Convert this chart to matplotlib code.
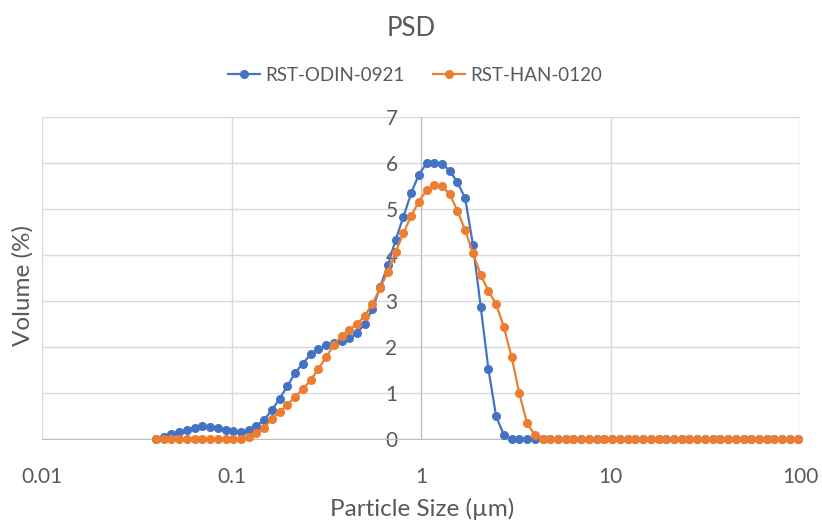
import matplotlib
matplotlib.use('Agg')
import matplotlib.pyplot as plt
from matplotlib.ticker import FixedLocator, NullLocator

plt.rcParams['font.family'] = ['Lato', 'DejaVu Sans']

# Particle size classes (µm)
sizes = [0.03981, 0.04373, 0.04804, 0.05278, 0.05798, 0.06369, 0.06997, 0.07686, 0.08444, 0.09276,
         0.1019, 0.1119, 0.1230, 0.1351, 0.1484, 0.1630, 0.1791, 0.1967, 0.2161, 0.2374,
         0.2608, 0.2865, 0.3147, 0.3458, 0.3798, 0.4173, 0.4584, 0.5036, 0.5532, 0.6077,
         0.6676, 0.7333, 0.8056, 0.8850, 0.9722, 1.068, 1.173, 1.289, 1.416, 1.555,
         1.709, 1.877, 2.062, 2.265, 2.488, 2.734, 3.003, 3.299, 3.624, 3.981,
         4.373, 4.804, 5.278, 5.798, 6.369, 6.997, 7.686, 8.444, 9.276, 10.19,
         11.19, 12.30, 13.51, 14.84, 16.30, 17.91, 19.67, 21.61, 23.74, 26.08,
         28.65, 31.47, 34.58, 37.98, 41.73, 45.84, 50.36, 55.32, 60.77, 66.76,
         73.33, 80.56, 88.50, 97.22]

# Volume (%) for RST-ODIN-0921
odin = [0.00, 0.04, 0.10, 0.15, 0.20, 0.25, 0.28, 0.27, 0.24, 0.20,
        0.17, 0.15, 0.19, 0.28, 0.42, 0.63, 0.88, 1.15, 1.44, 1.64,
        1.84, 1.96, 2.04, 2.09, 2.13, 2.19, 2.30, 2.51, 2.82, 3.31,
        3.78, 4.33, 4.83, 5.34, 5.75, 5.99, 6.01, 5.98, 5.83, 5.58,
        5.23, 4.22, 2.88, 1.52, 0.49, 0.09, 0.00, 0.00, 0.00, 0.00,
        0.00, 0.00, 0.00, 0.00, 0.00, 0.00, 0.00, 0.00, 0.00, 0.00,
        0.00, 0.00, 0.00, 0.00, 0.00, 0.00, 0.00, 0.00, 0.00, 0.00,
        0.00, 0.00, 0.00, 0.00, 0.00, 0.00, 0.00, 0.00, 0.00, 0.00,
        0.00, 0.00, 0.00, 0.00]

# Volume (%) for RST-HAN-0120
han = [0.00, 0.00, 0.00, 0.00, 0.00, 0.00, 0.00, 0.00, 0.00, 0.00,
       0.00, 0.00, 0.05, 0.12, 0.25, 0.43, 0.59, 0.74, 0.92, 1.08,
       1.28, 1.52, 1.78, 2.04, 2.24, 2.38, 2.50, 2.68, 2.94, 3.28,
       3.64, 4.07, 4.47, 4.85, 5.16, 5.41, 5.52, 5.50, 5.32, 4.96,
       4.54, 4.04, 3.57, 3.22, 2.93, 2.43, 1.78, 0.99, 0.34, 0.09,
       0.00, 0.00, 0.00, 0.00, 0.00, 0.00, 0.00, 0.00, 0.00, 0.00,
       0.00, 0.00, 0.00, 0.00, 0.00, 0.00, 0.00, 0.00, 0.00, 0.00,
       0.00, 0.00, 0.00, 0.00, 0.00, 0.00, 0.00, 0.00, 0.00, 0.00,
       0.00, 0.00, 0.00, 0.00]

x_ticks = [0.01, 0.1, 1, 10, 100]
x_tick_labels = ['0.01', '0.1', '1', '10', '100']
y_ticks = [0, 1, 2, 3, 4, 5, 6, 7]

TXT = '#595959'
W, H = 822, 523
fig = plt.figure(figsize=(W / 100, H / 100), dpi=100)
ax = fig.add_axes([42.3 / W, (H - 439) / H, (800 - 42.3) / W, (439 - 117) / H])

ax.set_xscale('log')
ax.set_xlim(0.01, 100)
ax.set_ylim(0, 7)

ax.plot(sizes, odin, color='#4472C4', lw=1.6, marker='o', ms=5.5,
        label='RST-ODIN-0921', clip_on=False, zorder=3)
ax.plot(sizes, han, color='#ED7D31', lw=1.6, marker='o', ms=5.5,
        label='RST-HAN-0120', clip_on=False, zorder=4)

ax.xaxis.set_major_locator(FixedLocator(x_ticks))
ax.xaxis.set_minor_locator(NullLocator())
ax.set_xticklabels(x_tick_labels)
ax.set_yticks(y_ticks)
ax.set_yticklabels([str(v) for v in y_ticks])

ax.grid(True, color='#D9D9D9', lw=1.0, zorder=0)
ax.set_axisbelow(True)
for s in ['top', 'right']:
    ax.spines[s].set_visible(False)
ax.spines['left'].set_position(('data', 1))
ax.spines['left'].set_color('#BFBFBF')
ax.spines['bottom'].set_color('#BFBFBF')
ax.spines['left'].set_zorder(1)

ax.tick_params(axis='x', length=0, pad=20, labelsize=15, labelcolor=TXT)
ax.tick_params(axis='y', length=0, pad=17, labelsize=15, labelcolor=TXT)

fig.text(411.5 / W, 1 - 28 / H, 'PSD', ha='center', va='center', fontsize=18.5, color=TXT)
fig.text(422 / W, 1 - 509 / H, 'Particle Size (µm)', ha='center', va='center', fontsize=17.5, color=TXT)
fig.text(23 / W, 1 - 285 / H, 'Volume (%)', ha='center', va='center', rotation=90, fontsize=17.5, color=TXT)

leg = fig.legend(loc='center', bbox_to_anchor=(415 / W, 1 - 75 / H), ncol=2, frameon=False,
                 fontsize=13.5, handlelength=1.7, handletextpad=0.25, columnspacing=1.55,
                 labelcolor=TXT)

fig.savefig('out.png', dpi=100)
